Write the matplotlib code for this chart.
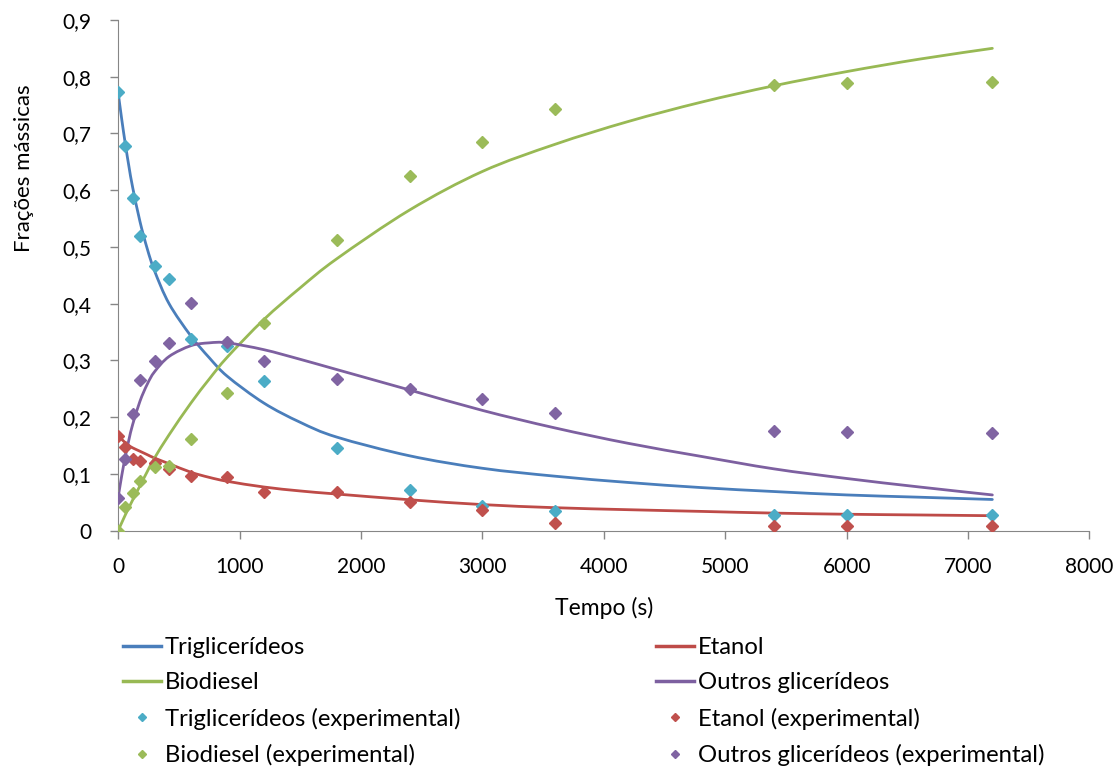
import matplotlib
matplotlib.use("Agg")
import matplotlib.pyplot as plt
from matplotlib.lines import Line2D
from matplotlib.path import Path
from matplotlib.patches import PathPatch

# experimental sampling times (s)
t_exp = [0, 60, 120, 180, 300, 420, 600, 900, 1200, 1800, 2400, 3000, 3600, 5400, 6000, 7200]
tg_exp = [0.773, 0.678, 0.587, 0.520, 0.467, 0.443, 0.337, 0.325, 0.263, 0.146, 0.072, 0.043, 0.035, 0.027, 0.027, 0.027]
et_exp = [0.166, 0.147, 0.126, 0.122, 0.120, 0.109, 0.096, 0.094, 0.069, 0.068, 0.050, 0.037, 0.014, 0.009, 0.009, 0.009]
bd_exp = [0.000, 0.042, 0.066, 0.088, 0.112, 0.114, 0.161, 0.243, 0.366, 0.512, 0.625, 0.685, 0.743, 0.785, 0.789, 0.790]
og_exp = [0.058, 0.126, 0.205, 0.266, 0.299, 0.330, 0.401, 0.332, 0.299, 0.268, 0.250, 0.232, 0.208, 0.176, 0.174, 0.173]

# model curves
t_mod = [0, 30, 60, 90, 120, 180, 240, 300, 420, 600, 750, 900, 1200, 1500, 1800,
         2400, 3000, 3600, 4200, 4800, 5400, 6000, 6600, 7200]
tg_mod = [0.773, 0.725, 0.681, 0.641, 0.605, 0.545, 0.497, 0.458, 0.400, 0.343, 0.305, 0.272, 0.225, 0.191, 0.165,
          0.132, 0.110, 0.096, 0.085, 0.076, 0.069, 0.063, 0.059, 0.055]
et_mod = [0.167, 0.161, 0.155, 0.150, 0.146, 0.140, 0.134, 0.128, 0.118, 0.103, 0.094, 0.087, 0.077, 0.070, 0.0646,
          0.0545, 0.046, 0.0405, 0.037, 0.034, 0.031, 0.029, 0.0277, 0.0264]
bd_mod = [0.000, 0.014, 0.028, 0.041, 0.054, 0.079, 0.104, 0.128, 0.169, 0.225, 0.267, 0.306, 0.372, 0.428, 0.479,
          0.565, 0.633, 0.681, 0.721, 0.755, 0.784, 0.809, 0.831, 0.850]
og_mod = [0.058, 0.097, 0.131, 0.161, 0.187, 0.228, 0.258, 0.280, 0.307, 0.326, 0.331, 0.331, 0.319, 0.302, 0.284,
          0.248, 0.212, 0.181, 0.154, 0.131, 0.109, 0.092, 0.077, 0.063]

line_colors = ['#4A7EBB', '#BE4B48', '#98B954', '#7D60A0']
marker_colors = ['#4BACC6', '#C0504D', '#9BBB59', '#8064A2']


def smooth_line(ax, x, y, color):
    """Draw a smoothed line through the points (like Excel's smoothed scatter)."""
    n = len(x)
    verts = [(x[0], y[0])]
    codes = [Path.MOVETO]
    for i in range(n - 1):
        a = max(i - 1, 0)
        b = min(i + 2, n - 1)
        c1 = (x[i] + (x[i + 1] - x[a]) / 6, y[i] + (y[i + 1] - y[a]) / 6)
        c2 = (x[i + 1] - (x[b] - x[i]) / 6, y[i + 1] - (y[b] - y[i]) / 6)
        verts += [c1, c2, (x[i + 1], y[i + 1])]
        codes += [Path.CURVE4] * 3
    ax.add_patch(PathPatch(Path(verts, codes), fill=False, edgecolor=color, lw=2.0,
                           capstyle='round', joinstyle='round', zorder=2))


plt.rcParams['font.family'] = ['Lato', 'DejaVu Sans']

fig = plt.figure(figsize=(11.14, 7.68), dpi=100)
ax = fig.add_axes([0.106, 0.309, 0.872, 0.665])

models = [tg_mod, et_mod, bd_mod, og_mod]
exps = [tg_exp, et_exp, bd_exp, og_exp]

for y, c in zip(models, line_colors):
    smooth_line(ax, t_mod, y, c)
for y, c in zip(exps, marker_colors):
    ax.plot(t_exp, y, ls='none', marker='D', ms=6.3, color=c, mec=c, zorder=3)

ax.set_xlim(0, 8000)
ax.set_ylim(0, 0.9)
ax.set_xticks(range(0, 8001, 1000))
ax.set_yticks([i / 10 for i in range(10)])
ax.set_yticklabels(['0'] + [f'0,{i}' for i in range(1, 10)])
ax.tick_params(labelsize=15, colors='#868686', labelcolor='black', length=6, width=1, direction='out')
ax.tick_params(axis='x', pad=13)
ax.tick_params(axis='y', pad=13)
for s in ['top', 'right']:
    ax.spines[s].set_visible(False)
for s in ['left', 'bottom']:
    ax.spines[s].set_color('#868686')
ax.set_xlabel('Tempo (s)', fontsize=16.5, labelpad=14)
ax.set_ylabel('Frações mássicas', fontsize=16)
ax.yaxis.set_label_coords(-0.087, 0.71)

# legend: two columns, lines first then experimental markers
left_handles = [
    Line2D([], [], color=line_colors[0], lw=2.5),
    Line2D([], [], color=line_colors[2], lw=2.5),
    Line2D([], [], ls='none', marker='D', ms=4, color=marker_colors[0]),
    Line2D([], [], ls='none', marker='D', ms=4, color=marker_colors[2]),
]
left_names = ['Triglicerídeos', 'Biodiesel', 'Triglicerídeos (experimental)', 'Biodiesel (experimental)']
right_handles = [
    Line2D([], [], color=line_colors[1], lw=2.5),
    Line2D([], [], color=line_colors[3], lw=2.5),
    Line2D([], [], ls='none', marker='D', ms=4, color=marker_colors[1]),
    Line2D([], [], ls='none', marker='D', ms=4, color=marker_colors[3]),
]
right_names = ['Etanol', 'Outros glicerídeos', 'Etanol (experimental)', 'Outros glicerídeos (experimental)']

for handles, names, x0 in [(left_handles, left_names, 123), (right_handles, right_names, 656)]:
    fig.legend(handles, names, loc='upper left', bbox_to_anchor=(x0 / 1114, 1 - 637 / 768),
               frameon=False, fontsize=17.2, handlelength=1.6, handletextpad=0.15,
               labelspacing=0.6, borderpad=0, borderaxespad=0)

fig.savefig('out.png', dpi=100)
